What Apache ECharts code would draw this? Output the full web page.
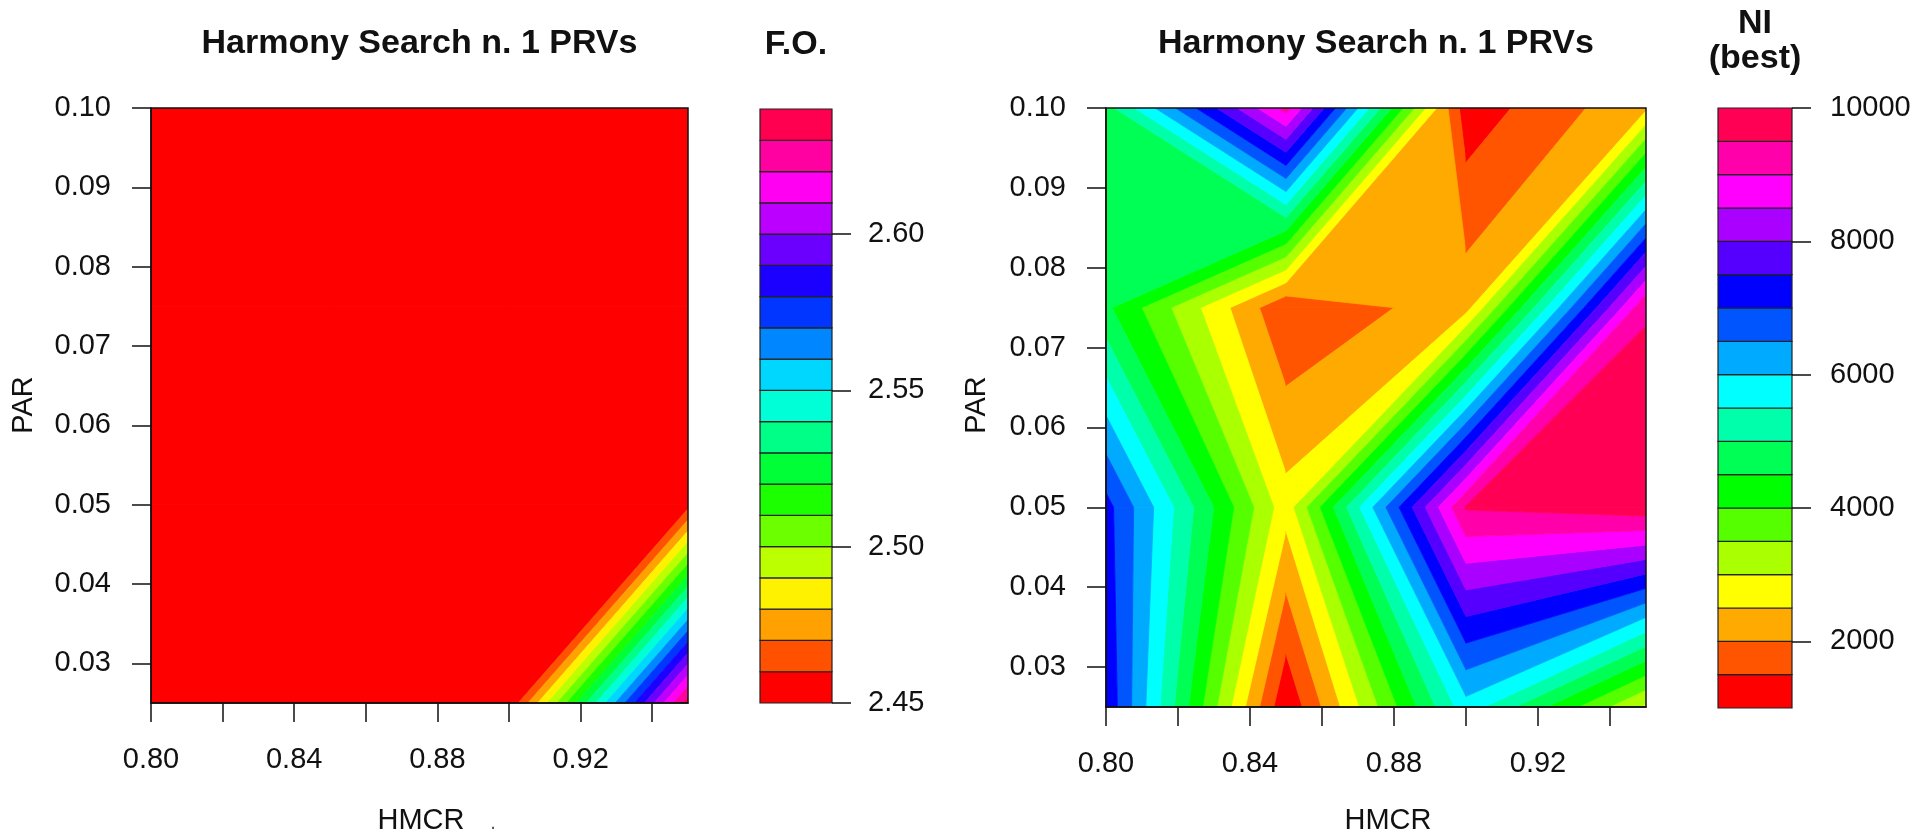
<!DOCTYPE html>
<html><head><meta charset="utf-8">
<script src="https://cdn.jsdelivr.net/npm/echarts@6/dist/echarts.min.js"></script>
<style>html,body{margin:0;padding:0;background:#fff;}#c{width:1925px;height:837px;}</style>
</head><body><div id="c"></div>
<script>
// ---- data ----
const hmcr = [0.80, 0.85, 0.90, 0.95];
const par = [0.025, 0.05, 0.075, 0.10];
// F.O. grid: one row per PAR value, one column per HMCR value
const foRow025 = [2.455, 2.455, 2.4505, 2.635];
const foRow050 = [2.455, 2.455, 2.455, 2.4564];
const foRow075 = [2.455, 2.455, 2.455, 2.455];
const foRow100 = [2.455, 2.455, 2.455, 2.455];
// NI (best) grid
const niRow025 = [7400, 1070, 5800, 2900];
const niRow050 = [7190, 2694, 9550, 9800];
const niRow075 = [4602, 1550, 2300, 9470];
const niRow100 = [4800, 9200, 1200, 2400];
const foLevels = [2.45,2.46,2.47,2.48,2.49,2.50,2.51,2.52,2.53,2.54,2.55,2.56,2.57,2.58,2.59,2.60,2.61,2.62,2.63,2.64];
const niLevels = [1000,1500,2000,2500,3000,3500,4000,4500,5000,5500,6000,6500,7000,7500,8000,8500,9000,9500,10000];
const xTickValues = [0.80,0.82,0.84,0.86,0.88,0.90,0.92,0.94];
const xLabelValues = [0.80,0.84,0.88,0.92];
const yTickValues = [0.03,0.04,0.05,0.06,0.07,0.08,0.09,0.10];
const foKeyLabels = [2.45,2.50,2.55,2.60];
const niKeyLabels = [2000,4000,6000,8000,10000];

const foRows = [foRow025, foRow050, foRow075, foRow100];
const niRows = [niRow025, niRow050, niRow075, niRow100];

// R rainbow(n)
function rainbow(n){
  const out=[];
  for(let i=0;i<n;i++){
    const h=i/n*6, k=Math.floor(h), f=h-k; let r,g,b;
    switch(k%6){case 0:r=1;g=f;b=0;break;case 1:r=1-f;g=1;b=0;break;case 2:r=0;g=1;b=f;break;
      case 3:r=0;g=1-f;b=1;break;case 4:r=f;g=0;b=1;break;default:r=1;g=0;b=1-f;}
    out.push('rgb('+Math.round(r*255)+','+Math.round(g*255)+','+Math.round(b*255)+')');
  }
  return out;
}
const foColors = rainbow(foLevels.length-1);
const niColors = rainbow(niLevels.length-1);

function bandPolygon(corners, lo, hi, isTop){
  const pts=[];
  const inBand = v => v>=lo && (isTop ? v<=hi : v<hi);
  for(let k=0;k<4;k++){
    const p=corners[k], q=corners[(k+1)%4];
    if(inBand(p[2])) pts.push([p[0],p[1]]);
    const cuts=[];
    [lo,hi].forEach(lev=>{
      if((p[2]<lev && q[2]>lev)||(p[2]>lev && q[2]<lev)) cuts.push((lev-p[2])/(q[2]-p[2]));
    });
    cuts.sort((a,b)=>a-b);
    cuts.forEach(t=>pts.push([p[0]+t*(q[0]-p[0]), p[1]+t*(q[1]-p[1])]));
  }
  return pts;
}
function cellData(){
  const d=[];
  for(let j=0;j<par.length-1;j++) for(let i=0;i<hmcr.length-1;i++) d.push([hmcr[i],par[j],i,j]);
  return d;
}
function contourRender(rows, levels, colors){
  return function(params, api){
    const i=api.value(2), j=api.value(3);
    const c=[[hmcr[i],par[j],rows[j][i]],[hmcr[i+1],par[j],rows[j][i+1]],
             [hmcr[i+1],par[j+1],rows[j+1][i+1]],[hmcr[i],par[j+1],rows[j+1][i]]];
    const children=[];
    for(let b=0;b<levels.length-1;b++){
      const pts=bandPolygon(c, levels[b], levels[b+1], b===levels.length-2);
      if(pts.length>=3) children.push({type:'polygon',shape:{points:pts.map(p=>api.coord(p))},
        style:{fill:colors[b],stroke:colors[b],lineWidth:0.8}});
    }
    return {type:'group',children};
  };
}
function keyData(levels){ const d=[]; for(let b=0;b<levels.length-1;b++) d.push([0.5,levels[b],b]); return d; }
function keyRender(levels, colors){
  return function(params, api){
    const b=api.value(2);
    const p0=api.coord([0,levels[b]]), p1=api.coord([1,levels[b+1]]);
    return {type:'rect',shape:{x:p0[0],y:p1[1],width:p1[0]-p0[0],height:p0[1]-p1[1]},
      style:{fill:colors[b],stroke:'#222',lineWidth:1.2}};
  };
}

const FONT='"Liberation Sans", Arial, sans-serif';
const txt = {color:'#111',fontFamily:FONT,fontSize:29};
const tickStyle = {show:true,inside:false,length:19,lineStyle:{color:'#111',width:1.5}};

function plotX(gi){ return {type:'value',gridIndex:gi,min:0.80,max:0.95,z:10,
  axisLine:{show:true,onZero:false,lineStyle:{color:'#111',width:1.5}},
  axisTick:Object.assign({customValues:xTickValues},tickStyle),
  axisLabel:Object.assign({customValues:xLabelValues,margin:42,formatter:v=>v.toFixed(2)},txt),
  splitLine:{show:false}}; }
function plotY(gi){ return {type:'value',gridIndex:gi,min:0.025,max:0.10,z:10,
  axisLine:{show:true,onZero:false,lineStyle:{color:'#111',width:1.5}},
  axisTick:Object.assign({customValues:yTickValues},tickStyle),
  axisLabel:Object.assign({customValues:yTickValues,margin:40,formatter:v=>v.toFixed(2)},txt),
  splitLine:{show:false}}; }

const chart = echarts.init(document.getElementById('c'), null, {renderer:'canvas'});
chart.setOption({
  backgroundColor:'#fff',
  animation:false,
  grid:[
    {left:151,top:108,width:537,height:595,show:true,borderColor:'#111',borderWidth:1.5,backgroundColor:'transparent',z:5},
    {left:760,top:109,width:72,height:594},
    {left:1106,top:108,width:540,height:599,show:true,borderColor:'#111',borderWidth:1.5,backgroundColor:'transparent',z:5},
    {left:1718,top:108,width:74,height:600}
  ],
  xAxis:[
    plotX(0),
    {type:'value',gridIndex:1,min:0,max:1,show:false},
    plotX(2),
    {type:'value',gridIndex:3,min:0,max:1,show:false}
  ],
  yAxis:[
    plotY(0),
    {type:'value',gridIndex:1,min:2.45,max:2.64,position:'right',z:10,
      axisLine:{show:false,onZero:false},axisTick:Object.assign({customValues:foKeyLabels},tickStyle),
      axisLabel:Object.assign({customValues:foKeyLabels,margin:36,formatter:v=>v.toFixed(2)},txt),
      splitLine:{show:false}},
    plotY(2),
    {type:'value',gridIndex:3,min:1000,max:10000,position:'right',z:10,
      axisLine:{show:false,onZero:false},axisTick:Object.assign({customValues:niKeyLabels},tickStyle),
      axisLabel:Object.assign({customValues:niKeyLabels,margin:38,formatter:v=>String(v)},txt),
      splitLine:{show:false}}
  ],
  series:[
    {type:'custom',xAxisIndex:0,yAxisIndex:0,data:cellData(),encode:{x:0,y:1},clip:true,
      renderItem:contourRender(foRows, foLevels, foColors)},
    {type:'custom',xAxisIndex:1,yAxisIndex:1,data:keyData(foLevels),encode:{x:0,y:1},
      renderItem:keyRender(foLevels, foColors)},
    {type:'custom',xAxisIndex:2,yAxisIndex:2,data:cellData(),encode:{x:0,y:1},clip:true,
      renderItem:contourRender(niRows, niLevels, niColors)},
    {type:'custom',xAxisIndex:3,yAxisIndex:3,data:keyData(niLevels),encode:{x:0,y:1},
      renderItem:keyRender(niLevels, niColors)}
  ],
  graphic:[
    {type:'text',x:419.5,y:44,style:{text:'Harmony Search n. 1 PRVs',fontFamily:FONT,fontSize:34,fontWeight:'bold',fill:'#111',align:'center',verticalAlign:'middle'}},
    {type:'text',x:796,y:45,style:{text:'F.O.',fontFamily:FONT,fontSize:34,fontWeight:'bold',fill:'#111',align:'center',verticalAlign:'middle'}},
    {type:'text',x:1376,y:44,style:{text:'Harmony Search n. 1 PRVs',fontFamily:FONT,fontSize:34,fontWeight:'bold',fill:'#111',align:'center',verticalAlign:'middle'}},
    {type:'text',x:1755,y:24,style:{text:'NI',fontFamily:FONT,fontSize:34,fontWeight:'bold',fill:'#111',align:'center',verticalAlign:'middle'}},
    {type:'text',x:1755,y:59,style:{text:'(best)',fontFamily:FONT,fontSize:34,fontWeight:'bold',fill:'#111',align:'center',verticalAlign:'middle'}},
    {type:'text',x:421,y:821,style:{text:'HMCR',fontFamily:FONT,fontSize:29,fill:'#111',align:'center',verticalAlign:'middle'}},
    {type:'text',x:493,y:823,style:{text:'.',fontFamily:FONT,fontSize:20,fill:'#555',align:'center',verticalAlign:'middle'}},
    {type:'text',x:1388,y:821,style:{text:'HMCR',fontFamily:FONT,fontSize:29,fill:'#111',align:'center',verticalAlign:'middle'}},
    {type:'text',x:24,y:405,rotation:Math.PI/2,style:{text:'PAR',fontFamily:FONT,fontSize:29,fill:'#111',align:'center',verticalAlign:'middle'}},
    {type:'text',x:977,y:405,rotation:Math.PI/2,style:{text:'PAR',fontFamily:FONT,fontSize:29,fill:'#111',align:'center',verticalAlign:'middle'}}
  ]
});
</script></body></html>
